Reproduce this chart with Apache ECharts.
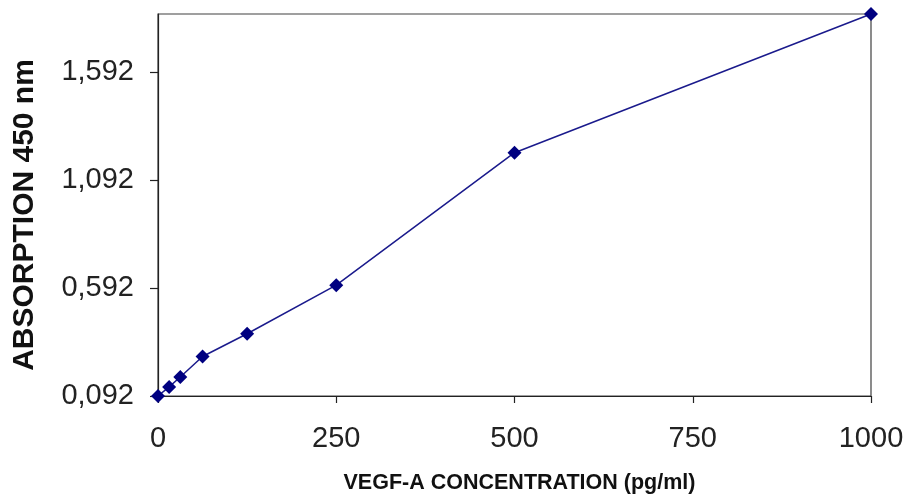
<!DOCTYPE html>
<html>
<head>
<meta charset="utf-8">
<script src="https://cdn.jsdelivr.net/npm/echarts@6/dist/echarts.min.js"></script>
<style>
html,body{margin:0;padding:0;background:#fff;}
#chart{width:907px;height:494px;}
</style>
</head>
<body>
<div id="chart"></div>
<script>
const concentrations = [0, 15.6, 31.25, 62.5, 125, 250, 500, 1000];
const absorptions = [0.092, 0.134, 0.180, 0.275, 0.380, 0.605, 1.218, 1.86];
const yTicks = [0.092, 0.592, 1.092, 1.592];
const xTicks = [0, 250, 500, 750, 1000];
const xTitle = 'VEGF-A CONCENTRATION (pg/ml)';
const yTitle = 'ABSORPTION 450 nm';

const chart = echarts.init(document.getElementById('chart'), null, {renderer: 'canvas'});
const font = '"Liberation Sans", Arial, sans-serif';
chart.setOption({
  animation: false,
  backgroundColor: '#fff',
  grid: {left: 158, right: 36, top: 14, bottom: 98, show: true, borderColor: '#404040', borderWidth: 1.2,
    containLabel: false, outerBoundsMode: 'none'},
  xAxis: {
    type: 'value', min: 0, max: 1000,
    axisLine: {show: true, lineStyle: {color: '#222', width: 1.2}},
    axisTick: {show: true, inside: false, length: 7, lineStyle: {color: '#222', width: 1.2}, customValues: xTicks},
    axisLabel: {fontFamily: font, fontSize: 29, color: '#222', margin: 28, customValues: xTicks,
      formatter: v => String(v)},
    splitLine: {show: false},
    name: xTitle, nameLocation: 'middle', nameGap: 76,
    nameTextStyle: {fontFamily: font, fontSize: 21.5, fontWeight: 'bold', color: '#111', padding: [0, 0, 0, 10]}
  },
  yAxis: {
    type: 'value', min: 0.092, max: 1.86,
    axisLine: {show: true, lineStyle: {color: '#222', width: 1.2}},
    axisTick: {show: true, inside: false, length: 8, lineStyle: {color: '#222', width: 1.2}, customValues: yTicks},
    axisLabel: {fontFamily: font, fontSize: 29, color: '#222', margin: 24, customValues: yTicks,
      formatter: v => v.toFixed(3).replace('.', ',')},
    splitLine: {show: false},
    name: yTitle, nameLocation: 'middle', nameGap: 118, nameRotate: 90,
    nameTextStyle: {fontFamily: font, fontSize: 30, fontWeight: 'bold', color: '#111', padding: [0, 20, 0, 0]}
  },
  series: [{
    type: 'line',
    data: concentrations.map((c, i) => [c, absorptions[i]]),
    symbol: 'diamond', symbolSize: 14,
    clip: false,
    itemStyle: {color: '#000080'},
    lineStyle: {color: '#1a1a8c', width: 1.5}
  }]
});
</script>
</body>
</html>
